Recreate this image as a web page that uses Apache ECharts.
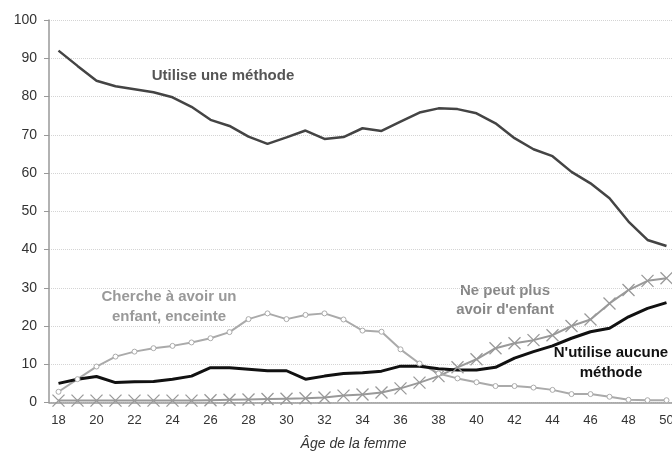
<!DOCTYPE html>
<html>
<head>
<meta charset="utf-8">
<script src="https://cdn.jsdelivr.net/npm/echarts@6/dist/echarts.min.js"></script>
<style>
  html, body { margin: 0; padding: 0; background: #fff; }
  #chart { width: 672px; height: 454px; }
</style>
</head>
<body>
<div id="chart"></div>
<script>
// ages 18..50
var ages = [];
for (var a = 18; a <= 50; a++) ages.push(String(a));

var utilise = [92, 88, 84.1, 82.7, 81.9, 81.1, 79.8, 77.3, 73.9, 72.3, 69.5, 67.6, 69.3, 71.1, 68.9, 69.4, 71.7,
  71.0, 73.4, 75.8, 76.9, 76.7, 75.6, 73.0, 69.1, 66.2, 64.4, 60.3, 57.3, 53.4, 47.3, 42.5, 40.9];
var cherche = [2.8, 6.1, 9.4, 12.0, 13.3, 14.2, 14.8, 15.7, 16.8, 18.4, 21.8, 23.3, 21.8, 22.9, 23.3, 21.7, 18.8,
  18.5, 13.9, 10.2, 7.6, 6.3, 5.3, 4.3, 4.3, 3.9, 3.3, 2.2, 2.2, 1.5, 0.7, 0.6, 0.6];
var nePeutPlus = [0.5, 0.5, 0.5, 0.5, 0.5, 0.5, 0.5, 0.5, 0.6, 0.7, 0.8, 0.9, 1.0, 1.1, 1.3, 1.8, 2.1,
  2.6, 3.7, 5.2, 6.9, 9.2, 11.3, 14.2, 15.5, 16.3, 17.6, 20.0, 21.7, 25.9, 29.4, 31.8, 32.5];
var aucune = [5.0, 6.1, 6.8, 5.2, 5.4, 5.5, 6.1, 6.9, 9.1, 9.1, 8.7, 8.3, 8.3, 6.1, 6.9, 7.6, 7.8,
  8.2, 9.5, 9.5, 8.8, 8.5, 8.5, 9.2, 11.6, 13.3, 14.8, 16.8, 18.5, 19.4, 22.4, 24.6, 26.1];

var font = "'Liberation Sans', Arial, sans-serif";
var labelFont = "bold 15px " + font;

var chart = echarts.init(document.getElementById("chart"));
chart.setOption({
  animation: false,
  grid: { left: 49, width: 627, top: 20, bottom: 51.5, containLabel: false, outerBoundsMode: "none" },
  xAxis: {
    type: "category",
    data: ages,
    boundaryGap: true,
    name: "Âge de la femme",
    nameLocation: "middle",
    nameGap: 35,
    nameTextStyle: { fontFamily: font, fontSize: 14, fontStyle: "italic", color: "#333", padding: [0, 18, 0, 0] },
    axisLine: { lineStyle: { color: "#999", width: 1.5 } },
    axisTick: { length: 4, lineStyle: { color: "#999" } },
    axisLabel: { interval: 1, margin: 11, fontFamily: font, fontSize: 13, color: "#333" },
    splitLine: { show: false }
  },
  yAxis: {
    type: "value",
    min: 0,
    max: 100,
    interval: 10,
    axisLine: { show: true, lineStyle: { color: "#999", width: 1.5 } },
    axisTick: { show: true, length: 5, lineStyle: { color: "#999" } },
    axisLabel: { margin: 12, fontFamily: font, fontSize: 14, color: "#333" },
    splitLine: { lineStyle: { color: "#d4d4d4", type: "dotted" } }
  },
  series: [
    {
      name: "Ne peut plus avoir d'enfant",
      type: "line",
      data: nePeutPlus,
      symbol: "path://M0,0L10,10M10,0L0,10",
      symbolSize: 12,
      showSymbol: true,
      lineStyle: { color: "#999", width: 2 },
      itemStyle: { color: "rgba(0,0,0,0)", borderColor: "#999", borderWidth: 1.3 }
    },
    {
      name: "Cherche à avoir un enfant, enceinte",
      type: "line",
      data: cherche,
      symbol: "circle",
      symbolSize: 5,
      lineStyle: { color: "#aaa", width: 2 },
      itemStyle: { color: "#fff", borderColor: "#aaa", borderWidth: 1 }
    },
    {
      name: "Utilise une méthode",
      type: "line",
      data: utilise,
      showSymbol: false,
      lineStyle: { color: "#444", width: 2.5 }
    },
    {
      name: "N'utilise aucune méthode",
      type: "line",
      data: aucune,
      showSymbol: false,
      lineStyle: { color: "#111", width: 3 }
    }
  ],
  graphic: [
    { type: "text", x: 223, y: 76, style: { text: "Utilise une méthode", align: "center", verticalAlign: "middle", font: labelFont, fill: "#555" } },
    { type: "text", x: 169, y: 307, style: { text: "Cherche à avoir un\nenfant, enceinte", align: "center", verticalAlign: "middle", font: labelFont, fill: "#999", lineHeight: 20 } },
    { type: "text", x: 505, y: 300, style: { text: "Ne peut plus\navoir d'enfant", align: "center", verticalAlign: "middle", font: labelFont, fill: "#888", lineHeight: 19 } },
    { type: "text", x: 611, y: 363, style: { text: "N'utilise aucune\nméthode", align: "center", verticalAlign: "middle", font: labelFont, fill: "#111", lineHeight: 20 } }
  ]
});
</script>
</body>
</html>
